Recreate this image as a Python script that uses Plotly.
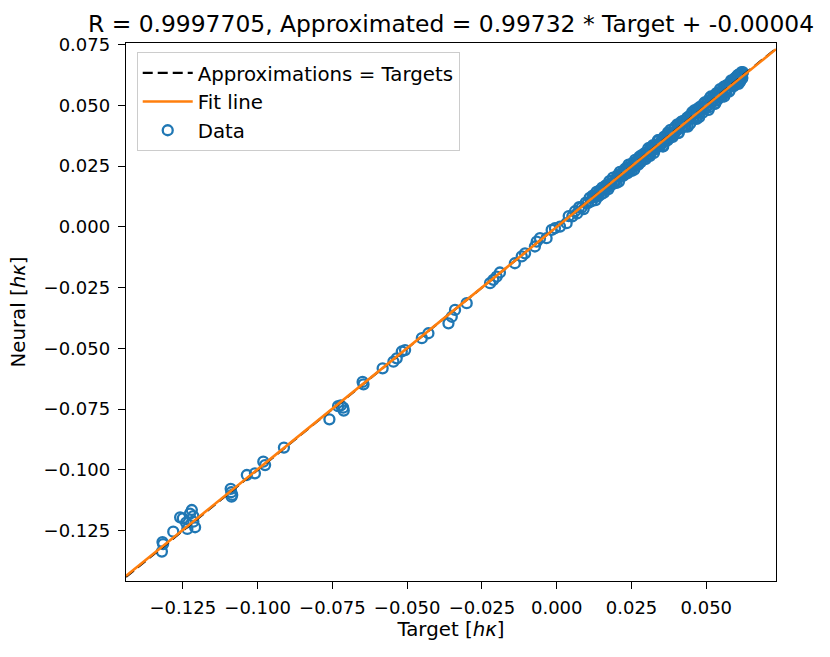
import plotly.graph_objects as go

# ---- data ----
target = [
    -0.1318, -0.1316, -0.1320, -0.1282,
    -0.1259, -0.1250, -0.1220, -0.1215, -0.1209, -0.1235, -0.1239, -0.1215, -0.1226,
    -0.1090, -0.1088, -0.1085, -0.1087,
    -0.1036, -0.1009, -0.0981, -0.0975, -0.0912, -0.0760,
    -0.0731, -0.0722, -0.0714, -0.0712,
    -0.0649, -0.0646, -0.0582, -0.0546, -0.0535, -0.0518, -0.0507,
    -0.0451, -0.0429, -0.0362, -0.0351, -0.0340, -0.0301,
    -0.0223, -0.0212, -0.0201, -0.0190, -0.0140, -0.0117, -0.0106,
    -0.0073, -0.0067, -0.0056, -0.0034, -0.0017, -0.0006, 0.0011, 0.0033,
    0.0040, 0.0052, 0.0061, 0.0068, 0.0075, 0.0083, 0.0090, 0.0097, 0.0104, 0.0110,
    0.0117, 0.0123, 0.0130, 0.0136, 0.0142, 0.0149, 0.0155, 0.0161, 0.0167, 0.0173,
    0.0179, 0.0185, 0.0191, 0.0197, 0.0203, 0.0208, 0.0214, 0.0220, 0.0226, 0.0231,
    0.0237, 0.0243, 0.0248, 0.0254, 0.0259, 0.0265, 0.0270, 0.0276, 0.0281, 0.0287,
    0.0292, 0.0298, 0.0303, 0.0309, 0.0314, 0.0319, 0.0325, 0.0330, 0.0335, 0.0341,
    0.0346, 0.0351, 0.0356, 0.0362, 0.0367, 0.0372, 0.0377, 0.0382, 0.0388, 0.0393,
    0.0398, 0.0403, 0.0408, 0.0413, 0.0418, 0.0423, 0.0428, 0.0433, 0.0438, 0.0443,
    0.0448, 0.0453, 0.0458, 0.0463, 0.0468, 0.0473, 0.0478, 0.0483, 0.0488, 0.0493,
    0.0498, 0.0503, 0.0508, 0.0512, 0.0517, 0.0522, 0.0527, 0.0532, 0.0536, 0.0541,
    0.0546, 0.0551, 0.0555, 0.0560, 0.0565, 0.0569, 0.0574, 0.0578, 0.0583, 0.0587,
    0.0592, 0.0596, 0.0600, 0.0604, 0.0608, 0.0611, 0.0614, 0.0617, 0.0619, 0.0621,
    0.0606, 0.0612, 0.0620, 0.0502, 0.0402, 0.0302, 0.0352, 0.0452, 0.0552, 0.0252,
    0.0120, 0.0127, 0.0133, 0.0139, 0.0146, 0.0152, 0.0158, 0.0164, 0.0170, 0.0176,
    0.0182, 0.0188, 0.0194, 0.0200, 0.0206, 0.0211, 0.0217, 0.0223, 0.0229, 0.0234,
    0.0240, 0.0246, 0.0251, 0.0257, 0.0262, 0.0268, 0.0273, 0.0279, 0.0284, 0.0290,
    0.0295, 0.0301, 0.0306, 0.0312, 0.0317, 0.0322, 0.0328, 0.0333, 0.0338, 0.0344,
    0.0349, 0.0354, 0.0359, 0.0365, 0.0370, 0.0375, 0.0380, 0.0385, 0.0391, 0.0396,
    0.0401, 0.0406, 0.0411, 0.0416, 0.0421, 0.0426, 0.0431, 0.0436, 0.0441, 0.0446,
    0.0451, 0.0456, 0.0461, 0.0466, 0.0471, 0.0476, 0.0481, 0.0486, 0.0491, 0.0496,
    0.0501, 0.0506, 0.0510, 0.0515, 0.0520, 0.0525, 0.0530, 0.0534, 0.0539, 0.0544,
    0.0549, 0.0553, 0.0558, 0.0563, 0.0567, 0.0572, 0.0576, 0.0581, 0.0585, 0.0590,
    0.0594, 0.0598, 0.0602, 0.0606, 0.0609, 0.0613, 0.0616, 0.0618, 0.0620, 0.0622,
]
neural = [
    -0.1297, -0.1305, -0.1336, -0.1254,
    -0.1195, -0.1199, -0.1165, -0.1190, -0.1236, -0.1243, -0.1217, -0.1213, -0.1180,
    -0.1078, -0.1092, -0.1103, -0.1110,
    -0.1021, -0.1014, -0.0966, -0.0980, -0.0908, -0.0792,
    -0.0738, -0.0735, -0.0744, -0.0756,
    -0.0638, -0.0648, -0.0582, -0.0555, -0.0541, -0.0513, -0.0507,
    -0.0458, -0.0438, -0.0397, -0.0370, -0.0342, -0.0314,
    -0.0232, -0.0218, -0.0205, -0.0188, -0.0150, -0.0122, -0.0109,
    -0.0081, -0.0061, -0.0047, -0.0047, -0.0013, -0.0006, 0.0001, 0.0015,
    0.0044, 0.0043, 0.0064, 0.0055, 0.0081, 0.0079, 0.0073, 0.0099, 0.0097, 0.0119,
    0.0105, 0.0126, 0.0110, 0.0132, 0.0149, 0.0134, 0.0155, 0.0152, 0.0171, 0.0155,
    0.0176, 0.0191, 0.0178, 0.0191, 0.0212, 0.0186, 0.0213, 0.0224, 0.0214, 0.0238,
    0.0221, 0.0243, 0.0258, 0.0245, 0.0235, 0.0268, 0.0264, 0.0288, 0.0266, 0.0286,
    0.0299, 0.0279, 0.0307, 0.0299, 0.0327, 0.0316, 0.0304, 0.0336, 0.0328, 0.0356,
    0.0333, 0.0352, 0.0331, 0.0371, 0.0363, 0.0388, 0.0365, 0.0382, 0.0370, 0.0403,
    0.0392, 0.0421, 0.0386, 0.0417, 0.0409, 0.0436, 0.0412, 0.0436, 0.0412, 0.0455,
    0.0447, 0.0472, 0.0445, 0.0469, 0.0444, 0.0488, 0.0471, 0.0484, 0.0469, 0.0509,
    0.0488, 0.0510, 0.0481, 0.0530, 0.0513, 0.0531, 0.0506, 0.0545, 0.0521, 0.0544,
    0.0566, 0.0539, 0.0561, 0.0536, 0.0580, 0.0566, 0.0584, 0.0560, 0.0602, 0.0580,
    0.0579, 0.0612, 0.0596, 0.0616, 0.0588, 0.0628, 0.0605, 0.0631, 0.0617, 0.0633,
    0.0625, 0.0600, 0.0610, 0.0495, 0.0398, 0.0290, 0.0345, 0.0458, 0.0548, 0.0250,
    0.0128, 0.0122, 0.0144, 0.0125, 0.0148, 0.0161, 0.0140, 0.0170, 0.0162, 0.0188,
    0.0172, 0.0202, 0.0191, 0.0181, 0.0214, 0.0226, 0.0210, 0.0210, 0.0239, 0.0232,
    0.0256, 0.0234, 0.0230, 0.0264, 0.0275, 0.0263, 0.0256, 0.0283, 0.0295, 0.0276,
    0.0304, 0.0293, 0.0323, 0.0292, 0.0318, 0.0336, 0.0317, 0.0329, 0.0356, 0.0335,
    0.0354, 0.0331, 0.0371, 0.0368, 0.0355, 0.0383, 0.0399, 0.0379, 0.0379, 0.0411,
    0.0398, 0.0386, 0.0421, 0.0432, 0.0412, 0.0428, 0.0414, 0.0449, 0.0448, 0.0424,
    0.0462, 0.0450, 0.0480, 0.0452, 0.0475, 0.0451, 0.0495, 0.0494, 0.0481, 0.0513,
    0.0497, 0.0518, 0.0492, 0.0536, 0.0512, 0.0530, 0.0507, 0.0550, 0.0540, 0.0531,
    0.0558, 0.0536, 0.0576, 0.0566, 0.0556, 0.0586, 0.0556, 0.0588, 0.0598, 0.0584,
    0.0609, 0.0589, 0.0619, 0.0602, 0.0621, 0.0597, 0.0624, 0.0636, 0.0615, 0.0636,
]

fit_slope = 0.99732
fit_intercept = -0.00004
r_value = 0.9997705

x_limits = [-0.1440, 0.0733]
y_limits = [-0.1457, 0.0756]

BLUE = "#1f77b4"
ORANGE = "#ff7f0e"
FONT = "DejaVu Sans"

fit_y = [fit_slope * v + fit_intercept for v in x_limits]

fig = go.Figure()
fig.add_trace(go.Scatter(
    x=target, y=neural, mode="markers", name="Data", legendrank=3,
    marker=dict(symbol="circle-open", size=10, color=BLUE, line=dict(width=2.3, color=BLUE)),
))
fig.add_trace(go.Scatter(
    x=x_limits, y=x_limits, mode="lines", name="Approximations = Targets", legendrank=1,
    line=dict(color="black", width=2.2, dash="10px,5px"),
))
fig.add_trace(go.Scatter(
    x=x_limits, y=fit_y, mode="lines", name="Fit line", legendrank=2,
    line=dict(color=ORANGE, width=2.6),
))

title = f"R = {r_value}, Approximated = {fit_slope:.5f} * Target + {fit_intercept:.5f}"

axis_common = dict(
    showgrid=False, zeroline=False, showline=True, linecolor="black", linewidth=1.4,
    mirror=True, ticks="outside", ticklen=7, tickwidth=1.4, tickcolor="black",
    tickformat=".3f", dtick=0.025, tick0=0, automargin=False,
    tickfont=dict(family=FONT, size=18, color="black"),
)

fig.update_layout(
    width=830, height=657,
    margin=dict(l=126, r=54, t=43, b=76),
    paper_bgcolor="white", plot_bgcolor="white",
    font=dict(family=FONT, size=18, color="black"),
    title=dict(text=title, x=451 / 830, xanchor="center",
               y=1 - 24 / 657, yanchor="middle", yref="container",
               font=dict(family=FONT, size=23.4, color="black")),
    xaxis=dict(range=x_limits, ticklabelstandoff=3,
               title=dict(text="Target [<i>hκ</i>]", standoff=5,
                          font=dict(family=FONT, size=19.8)), **axis_common),
    yaxis=dict(range=y_limits, ticklabelstandoff=4,
               title=dict(text="Neural [<i>hκ</i>]", standoff=12,
                          font=dict(family=FONT, size=19.8)), **axis_common),
    legend=dict(x=0.0165, y=0.9825, xanchor="left", yanchor="top", itemwidth=50,
                bgcolor="rgba(255,255,255,0.8)", bordercolor="#cccccc", borderwidth=1,
                font=dict(family=FONT, size=19.8, color="black")),
    showlegend=True,
)

fig.write_html("out.html", config={"displayModeBar": False},
               post_script="document.body.style.margin='0';")
